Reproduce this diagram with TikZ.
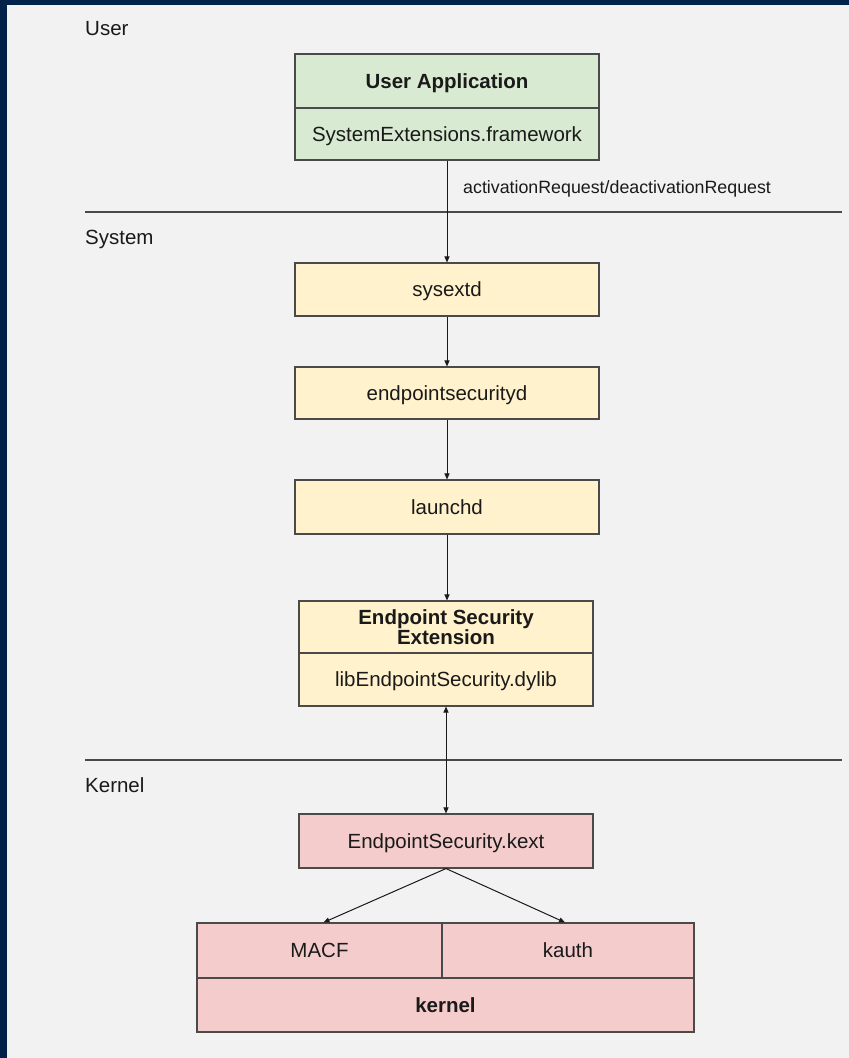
\documentclass[tikz,border=0pt]{standalone}
\usepackage{fontspec}
\setmainfont{Liberation Sans}
\usetikzlibrary{arrows.meta}

\definecolor{framenavy}{HTML}{00214A}
\definecolor{paper}{HTML}{F2F2F2}
\definecolor{appgreen}{HTML}{D9EAD3}
\definecolor{sysyellow}{HTML}{FFF2CC}
\definecolor{kernpink}{HTML}{F4CCCC}
\definecolor{edge}{HTML}{4A4A4A}
\definecolor{ink}{HTML}{1A1A1A}

\newcommand\boxfont{\fontsize{20.5pt}{20pt}\selectfont}
\newcommand\notefont{\fontsize{17.8pt}{20pt}\selectfont}

\begin{document}
\begin{tikzpicture}[x=1pt,y=-1pt,
  cell/.style={draw=edge, line width=1.1pt, inner sep=0pt, text=ink, font=\boxfont},
  box/.style={cell, text height=14.7pt, text depth=0pt},
  layer/.style={anchor=base west, inner sep=0pt, text=ink, font=\boxfont},
  rule/.style={draw=edge, line width=1.1pt},
  flow/.style={draw=ink, line width=1pt, -{Triangle[length=6pt,width=5pt]}},
  both/.style={draw=ink, line width=1pt, {Triangle[length=6pt,width=5pt]}-{Triangle[length=6pt,width=5pt]}}
]
  % page and frame
  \fill[framenavy] (0,0) rectangle (849,1058);
  \fill[paper] (7,5) rectangle (849,1058);
  \useasboundingbox (0,0) rectangle (849,1058);

  % layer separators
  \draw[rule] (85,212) -- (842,212);
  \draw[rule] (85,760) -- (842,760);

  % layer names
  \node[layer] (userlbl) at (85,35) {User};
  \node[layer] (syslbl) at (85,244) {System};
  \node[layer] (kernlbl) at (85,792) {Kernel};

  % user space
  \node[box, fill=appgreen, minimum width=304pt, minimum height=54pt, font=\boxfont\bfseries] (apptitle) at (447,81) {User Application};
  \node[box, fill=appgreen, minimum width=304pt, minimum height=52pt] (appfw) at (447,134) {SystemExtensions.framework};

  % system daemons
  \node[box, fill=sysyellow, minimum width=304pt, minimum height=53pt] (sysextd) at (447,289.5) {sysextd};
  \node[box, fill=sysyellow, minimum width=304pt, minimum height=52pt] (esd) at (447,393) {endpointsecurityd};
  \node[box, fill=sysyellow, minimum width=304pt, minimum height=54pt] (launchd) at (447,507) {launchd};

  % extension
  \node[cell, fill=sysyellow, minimum width=294pt, minimum height=52pt, align=center, font=\boxfont\bfseries] (exttitle) at (446,627) {Endpoint Security\\Extension};
  \node[box, fill=sysyellow, minimum width=294pt, minimum height=53pt] (extlib) at (446,679.5) {libEndpointSecurity.dylib};

  % kernel
  \node[box, fill=kernpink, minimum width=294pt, minimum height=54pt] (kext) at (446,841) {EndpointSecurity.kext};
  \node[box, fill=kernpink, minimum width=245pt, minimum height=55pt] (macf) at (319.5,950.5) {MACF};
  \node[box, fill=kernpink, minimum width=252pt, minimum height=55pt] (kauth) at (568,950.5) {kauth};
  \node[box, fill=kernpink, minimum width=497pt, minimum height=54pt, font=\boxfont\bfseries] (kernel) at (445.5,1005) {kernel};

  % connectors
  \draw[flow] (appfw.south) -- (sysextd.north);
  \node[anchor=base west, inner sep=0pt, text=ink, font=\notefont] (req) at (463,193) {activationRequest/deactivationRequest};
  \draw[flow] (sysextd.south) -- (esd.north);
  \draw[flow] (esd.south) -- (launchd.north);
  \draw[flow] (launchd.south) -- (launchd.south |- exttitle.north);
  \draw[both] (extlib.south) -- (kext.north);
  \draw[flow] (kext.south) -- ([xshift=4pt]macf.north);
  \draw[flow] (kext.south) -- ([xshift=-3pt]kauth.north);
\end{tikzpicture}
\end{document}
